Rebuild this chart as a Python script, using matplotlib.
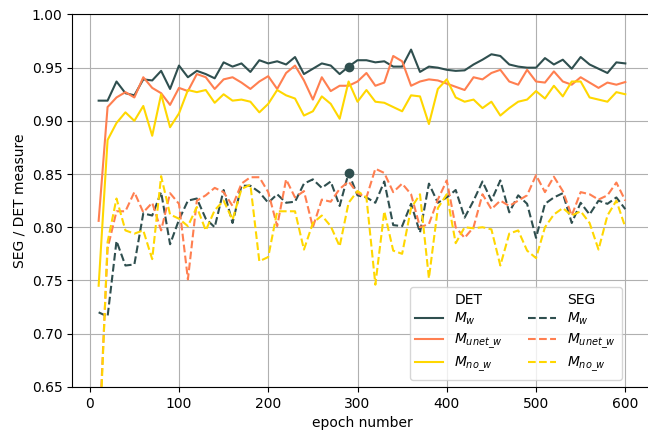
import matplotlib
matplotlib.use("Agg")
import matplotlib.pyplot as plt

# ------------------------- Data -------------------------
epochs = list(range(10, 601, 10))

det_w = [0.919, 0.919, 0.937, 0.926, 0.924, 0.939, 0.938, 0.947, 0.930, 0.952,
         0.941, 0.947, 0.944, 0.940, 0.955, 0.951, 0.954, 0.946, 0.957, 0.954,
         0.956, 0.953, 0.960, 0.944, 0.949, 0.954, 0.952, 0.944, 0.951, 0.957,
         0.957, 0.955, 0.956, 0.951, 0.951, 0.967, 0.946, 0.951, 0.950, 0.948,
         0.947, 0.9475, 0.953, 0.9575, 0.9626, 0.961, 0.953, 0.951, 0.950, 0.950,
         0.959, 0.953, 0.9575, 0.949, 0.960, 0.953, 0.949, 0.945, 0.955, 0.954]
det_unet_w = [0.806, 0.913, 0.922, 0.927, 0.922, 0.941, 0.931, 0.926, 0.915, 0.931,
              0.928, 0.944, 0.941, 0.930, 0.939, 0.941, 0.936, 0.930, 0.937, 0.942,
              0.930, 0.945, 0.952, 0.938, 0.920, 0.941, 0.928, 0.933, 0.933, 0.937,
              0.945, 0.933, 0.936, 0.961, 0.956, 0.933, 0.937, 0.939, 0.938, 0.935,
              0.932, 0.929, 0.941, 0.939, 0.945, 0.948, 0.937, 0.934, 0.948, 0.937,
              0.936, 0.9465, 0.937, 0.934, 0.941, 0.936, 0.931, 0.936, 0.934, 0.9365]
det_no_w = [0.745, 0.882, 0.898, 0.908, 0.900, 0.914, 0.886, 0.925, 0.894, 0.907,
            0.929, 0.927, 0.929, 0.917, 0.925, 0.919, 0.920, 0.918, 0.908, 0.916,
            0.929, 0.924, 0.921, 0.905, 0.909, 0.923, 0.916, 0.902, 0.937, 0.918,
            0.929, 0.918, 0.917, 0.913, 0.909, 0.924, 0.923, 0.897, 0.930, 0.939,
            0.922, 0.918, 0.920, 0.912, 0.918, 0.905, 0.912, 0.918, 0.920, 0.928,
            0.921, 0.933, 0.923, 0.937, 0.937, 0.922, 0.920, 0.918, 0.927, 0.925]

seg_w = [0.720, 0.716, 0.787, 0.764, 0.765, 0.813, 0.811, 0.833, 0.784, 0.807,
         0.825, 0.827, 0.808, 0.800, 0.835, 0.804, 0.839, 0.839, 0.833, 0.823,
         0.831, 0.823, 0.824, 0.841, 0.845, 0.837, 0.843, 0.820, 0.851, 0.830,
         0.828, 0.823, 0.843, 0.802, 0.801, 0.822, 0.795, 0.841, 0.823, 0.828,
         0.835, 0.809, 0.825, 0.843, 0.825, 0.844, 0.814, 0.830, 0.822, 0.790,
         0.822, 0.828, 0.832, 0.804, 0.823, 0.812, 0.825, 0.822, 0.828, 0.817]
seg_unet_w = [0.594, 0.780, 0.815, 0.815, 0.833, 0.814, 0.823, 0.797, 0.832, 0.822,
              0.751, 0.825, 0.830, 0.837, 0.833, 0.820, 0.841, 0.847, 0.847, 0.833,
              0.801, 0.845, 0.828, 0.834, 0.800, 0.826, 0.824, 0.836, 0.843, 0.832,
              0.828, 0.855, 0.851, 0.833, 0.841, 0.831, 0.800, 0.803, 0.826, 0.844,
              0.800, 0.790, 0.800, 0.831, 0.817, 0.825, 0.820, 0.825, 0.830, 0.849,
              0.833, 0.8475, 0.834, 0.811, 0.833, 0.831, 0.826, 0.830, 0.842, 0.825]
seg_no_w = [0.580, 0.786, 0.827, 0.797, 0.794, 0.797, 0.770, 0.848, 0.812, 0.808,
            0.801, 0.819, 0.797, 0.816, 0.825, 0.807, 0.836, 0.840, 0.768, 0.772,
            0.815, 0.815, 0.815, 0.779, 0.804, 0.811, 0.801, 0.782, 0.823, 0.834,
            0.828, 0.746, 0.815, 0.778, 0.775, 0.818, 0.831, 0.752, 0.818, 0.831,
            0.785, 0.800, 0.799, 0.800, 0.798, 0.764, 0.794, 0.797, 0.778, 0.771,
            0.800, 0.812, 0.818, 0.811, 0.815, 0.804, 0.779, 0.811, 0.825, 0.800]

best_epoch = 290
labels = [r"$M_w$", r"$M_{unet\_w}$", r"$M_{no\_w}$"]
colors = ["darkslategray", "coral", "gold"]

# ------------------------- Plot -------------------------
fig = plt.figure(figsize=(6.48, 4.30), dpi=100)
ax = fig.add_axes([0.1116, 0.1005, 0.894, 0.8658])

ax.plot([], [], " ", label="DET")
for vals, lab, c in zip([det_w, det_unet_w, det_no_w], labels, colors):
    ax.plot(epochs, vals, "-", color=c, lw=1.5, label=lab)
ax.plot([], [], " ", label="SEG")
for vals, lab, c in zip([seg_w, seg_unet_w, seg_no_w], labels, colors):
    ax.plot(epochs, vals, "--", color=c, lw=1.5, label=lab)

bi = epochs.index(best_epoch)
ax.plot(best_epoch, det_w[bi], "o", color="darkslategray", ms=6)
ax.plot(best_epoch, seg_w[bi], "o", color="darkslategray", ms=6)

ax.set_xlim(-19.5, 629.5)
ax.set_ylim(0.65, 1.0)
ax.set_xticks(range(0, 601, 100))
ax.grid(True)
ax.set_xlabel("epoch number")
ax.set_ylabel("SEG / DET measure")
ax.legend(ncol=2, loc="lower right", bbox_to_anchor=(0.96, 0.0),
          labelspacing=0.3, columnspacing=1.8)

fig.savefig("out.png", dpi=100)
